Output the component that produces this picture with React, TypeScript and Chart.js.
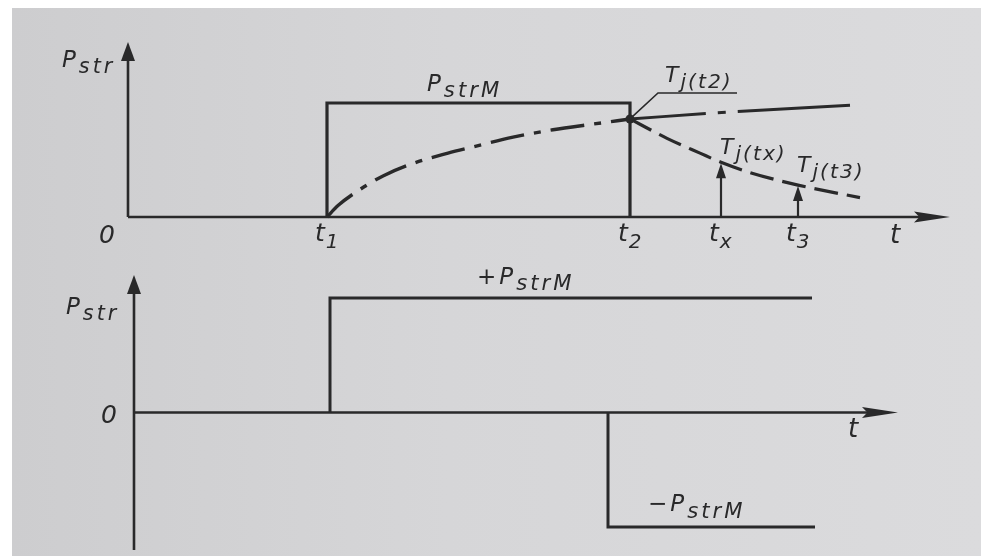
import React, { useEffect, useRef } from "react";
import { Chart, registerables } from "chart.js";

Chart.register(...registerables);

// ---- upper diagram: power pulse and junction temperature ----
const TOP_AXIS_END = 8.22;
const TOP_AXIS_HEIGHT = 1.535;

const tickNames = ["1", "2", "x", "3"];
const tickTimes = [1.99, 5.02, 5.93, 6.7];

const pulseTimes = [1.99, 1.99, 5.02, 5.02];
const pulseLevels = [0, 1, 1, 0];

const heatingTimes = [1.99, 2.1, 2.3, 2.55, 2.85, 3.2, 3.45, 3.85, 4.25, 4.65, 5.02];
const heatingTemps = [0, 0.1, 0.23, 0.36, 0.47, 0.56, 0.615, 0.7, 0.765, 0.815, 0.86];

const continuedTimes = [5.02, 6.0, 7.22];
const continuedTemps = [0.86, 0.92, 0.98];

const coolingTimes = [5.02, 5.39, 5.72, 5.93, 6.22, 6.7, 7.32];
const coolingTemps = [0.86, 0.69, 0.56, 0.48, 0.39, 0.28, 0.17];

const markerTimes = [5.93, 6.7];
const markerTemps = [0.48, 0.28];

// ---- lower diagram: reversed power ----
const BOT_AXIS_END = 7.64;
const BOT_AXIS_MIN = -1.2;
const BOT_AXIS_MAX = 1.2;

const posTimes = [1.96, 1.96, 6.78];
const posLevels = [0, 1, 1];

const negTimes = [4.74, 4.74, 6.81];
const negLevels = [0, -1, -1];

const INK = "#29292a";
const FONT = '"DejaVu Sans"';

const pts = (xs: number[], ys: number[]) => xs.map((x, i) => ({ x, y: ys[i] }));

function line(data: { x: number; y: number }[], width: number, dash: number[] = [], tension = 0) {
  return {
    data,
    borderColor: INK,
    borderWidth: width,
    borderDash: dash,
    borderCapStyle: "butt" as const,
    borderJoinStyle: "miter" as const,
    pointRadius: 0,
    fill: false,
    tension,
    cubicInterpolationMode: tension ? ("monotone" as const) : ("default" as const),
    clip: false as const,
  };
}

// italic symbol with a subscript, e.g. P_str or T_j(t2)
function rich(
  ctx: CanvasRenderingContext2D,
  x: number,
  y: number,
  main: string,
  sub: string,
  size: number,
  ratio = 0.85,
  spacing = 2
) {
  const subSize = size * ratio;
  ctx.save();
  ctx.fillStyle = INK;
  ctx.textBaseline = "alphabetic";
  ctx.textAlign = "left";
  (ctx as any).letterSpacing = `${spacing}px`;
  ctx.font = `italic ${size}px ${FONT}`;
  const w1 = ctx.measureText(main).width;
  ctx.fillText(main, x, y);
  if (sub) {
    ctx.font = `italic ${subSize}px ${FONT}`;
    ctx.fillText(sub, x + w1, y + size * 0.28);
  }
  ctx.restore();
}

function arrowUp(ctx: CanvasRenderingContext2D, x: number, tip: number, w: number, len: number) {
  ctx.beginPath();
  ctx.moveTo(x, tip);
  ctx.lineTo(x - w / 2, tip + len);
  ctx.lineTo(x + w / 2, tip + len);
  ctx.closePath();
  ctx.fill();
}

function arrowRight(ctx: CanvasRenderingContext2D, tip: number, y: number, h: number, len: number) {
  ctx.beginPath();
  ctx.moveTo(tip, y);
  ctx.lineTo(tip - len, y - h / 2);
  ctx.lineTo(tip - len * 0.85, y);
  ctx.lineTo(tip - len, y + h / 2);
  ctx.closePath();
  ctx.fill();
}

function drawAxes(chart: any, yFrom: number, yTo: number, xEnd: number) {
  const ctx: CanvasRenderingContext2D = chart.ctx;
  const sx = chart.scales.x;
  const sy = chart.scales.y;
  const x0 = sx.getPixelForValue(0);
  const y0 = sy.getPixelForValue(0);
  const yTop = sy.getPixelForValue(yTo);
  const xTip = sx.getPixelForValue(xEnd);
  ctx.save();
  ctx.strokeStyle = INK;
  ctx.fillStyle = INK;
  ctx.lineWidth = 2.6;
  ctx.beginPath();
  ctx.moveTo(x0, sy.getPixelForValue(yFrom));
  ctx.lineTo(x0, yTop + 10);
  ctx.moveTo(x0, y0);
  ctx.lineTo(xTip - 20, y0);
  ctx.stroke();
  arrowUp(ctx, x0, yTop, 14, 19);
  arrowRight(ctx, xTip, y0, 11, 36);
  ctx.restore();
}

const topNotation = {
  id: "topNotation",
  beforeDatasetsDraw(chart: any) {
    drawAxes(chart, 0, TOP_AXIS_HEIGHT, TOP_AXIS_END);
  },
  afterDatasetsDraw(chart: any) {
    const ctx: CanvasRenderingContext2D = chart.ctx;
    const sx = chart.scales.x;
    const sy = chart.scales.y;
    const px = (v: number) => sx.getPixelForValue(v);
    const py = (v: number) => sy.getPixelForValue(v);
    const x0 = px(0);
    const y0 = py(0);
    ctx.save();
    ctx.fillStyle = INK;
    ctx.strokeStyle = INK;

    // measuring arrows at tx and t3
    ctx.lineWidth = 2.2;
    markerTimes.forEach((t, i) => {
      const x = px(t);
      ctx.beginPath();
      ctx.moveTo(x, y0);
      ctx.lineTo(x, py(markerTemps[i]) + 12);
      ctx.stroke();
      arrowUp(ctx, x, py(markerTemps[i]) + 1, 10, 15);
    });

    // junction point at t2 and its leader line
    const jx = px(coolingTimes[0]);
    const jy = py(coolingTemps[0]);
    ctx.beginPath();
    ctx.arc(jx, jy, 4.5, 0, Math.PI * 2);
    ctx.fill();
    ctx.lineWidth = 1.6;
    ctx.beginPath();
    ctx.moveTo(jx, jy);
    ctx.lineTo(jx + 28, jy - 26);
    ctx.lineTo(jx + 107, jy - 26);
    ctx.stroke();

    // axis labels
    rich(ctx, x0 - 66, py(TOP_AXIS_HEIGHT) + 25, "P", "str", 23, 0.9, 3);
    ctx.font = `italic 25px ${FONT}`;
    ctx.textAlign = "center";
    ctx.fillText("0", x0 - 21, y0 + 26);
    rich(ctx, px(TOP_AXIS_END) - 60, y0 + 26, "t", "", 26);
    tickTimes.forEach((t, i) => rich(ctx, px(t) - 12, y0 + 24, "t", tickNames[i], 25, 0.8, 1));

    // value labels
    rich(ctx, px(pulseTimes[0]) + 100, py(1) - 12, "P", "strM", 23, 0.92, 3);
    rich(ctx, jx + 35, jy - 37, "T", "j(t2)", 22, 0.92, 2);
    rich(ctx, px(markerTimes[0]) - 1, py(markerTemps[0]) - 8, "T", "j(tx)", 22, 0.92, 2);
    rich(ctx, px(markerTimes[1]) - 1, py(markerTemps[1]) - 13, "T", "j(t3)", 22, 0.92, 2);
    ctx.restore();
  },
};

const bottomNotation = {
  id: "bottomNotation",
  beforeDatasetsDraw(chart: any) {
    drawAxes(chart, BOT_AXIS_MIN, BOT_AXIS_MAX, BOT_AXIS_END);
  },
  afterDatasetsDraw(chart: any) {
    const ctx: CanvasRenderingContext2D = chart.ctx;
    const sx = chart.scales.x;
    const sy = chart.scales.y;
    const px = (v: number) => sx.getPixelForValue(v);
    const py = (v: number) => sy.getPixelForValue(v);
    const x0 = px(0);
    const y0 = py(0);
    ctx.save();
    ctx.fillStyle = INK;
    rich(ctx, x0 - 68, py(BOT_AXIS_MAX) + 39, "P", "str", 23, 0.9, 3);
    ctx.font = `italic 25px ${FONT}`;
    ctx.textAlign = "center";
    ctx.fillText("0", x0 - 25, y0 + 10);
    rich(ctx, px(BOT_AXIS_END) - 50, y0 + 24, "t", "", 26);
    rich(ctx, px(posTimes[0]) + 147, py(1) - 14, "+P", "strM", 23, 0.92, 3);
    rich(ctx, px(negTimes[0]) + 40, py(-1) - 16, "\u2212P", "strM", 23, 0.92, 3);
    ctx.restore();
  },
};

function baseOptions(xMax: number, yMin: number, yMax: number, padding: any) {
  return {
    animation: false as const,
    responsive: false,
    events: [] as any[],
    layout: { padding },
    plugins: { legend: { display: false }, tooltip: { enabled: false } },
    scales: {
      x: { type: "linear" as const, display: false, min: 0, max: xMax },
      y: { type: "linear" as const, display: false, min: yMin, max: yMax },
    },
  };
}

export default function App() {
  const topRef = useRef<HTMLCanvasElement>(null);
  const botRef = useRef<HTMLCanvasElement>(null);

  useEffect(() => {
    document.body.style.margin = "0";
    const top = new Chart(topRef.current!, {
      type: "line",
      data: {
        datasets: [
          line(pts(pulseTimes, pulseLevels), 3.2),
          line(pts(heatingTimes, heatingTemps), 3.4, [34, 10, 7, 10], 0.4),
          line(pts(continuedTimes, continuedTemps), 3.0, [76, 12, 8, 12, 200], 0.4),
          line(pts(coolingTimes, coolingTemps), 3.2, [24, 9], 0.4),
        ] as any,
      },
      options: baseOptions(TOP_AXIS_END, 0, TOP_AXIS_HEIGHT, { left: 128, right: 31, top: 42, bottom: 33 }) as any,
      plugins: [topNotation],
    });
    const bot = new Chart(botRef.current!, {
      type: "line",
      data: {
        datasets: [
          line(pts(posTimes, posLevels), 3.0),
          line(pts(negTimes, negLevels), 3.0),
        ] as any,
      },
      options: baseOptions(BOT_AXIS_END, BOT_AXIS_MIN, BOT_AXIS_MAX, { left: 134, right: 83, top: 25, bottom: 6 }) as any,
      plugins: [bottomNotation],
    });
    return () => {
      top.destroy();
      bot.destroy();
    };
  }, []);

  return (
    <div style={{ position: "relative", width: 981, height: 556, background: "#ffffff", overflow: "hidden" }}>
      <div
        style={{
          position: "absolute",
          left: 12,
          top: 8,
          right: 0,
          bottom: 0,
          background: "linear-gradient(90deg, #cdcdcf 0%, #d6d6d8 45%, #dbdbdd 100%)",
        }}
      />
      <canvas ref={topRef} width={981} height={250} style={{ position: "absolute", left: 0, top: 0, display: "block" }} />
      <canvas ref={botRef} width={981} height={306} style={{ position: "absolute", left: 0, top: 250, display: "block" }} />
    </div>
  );
}
